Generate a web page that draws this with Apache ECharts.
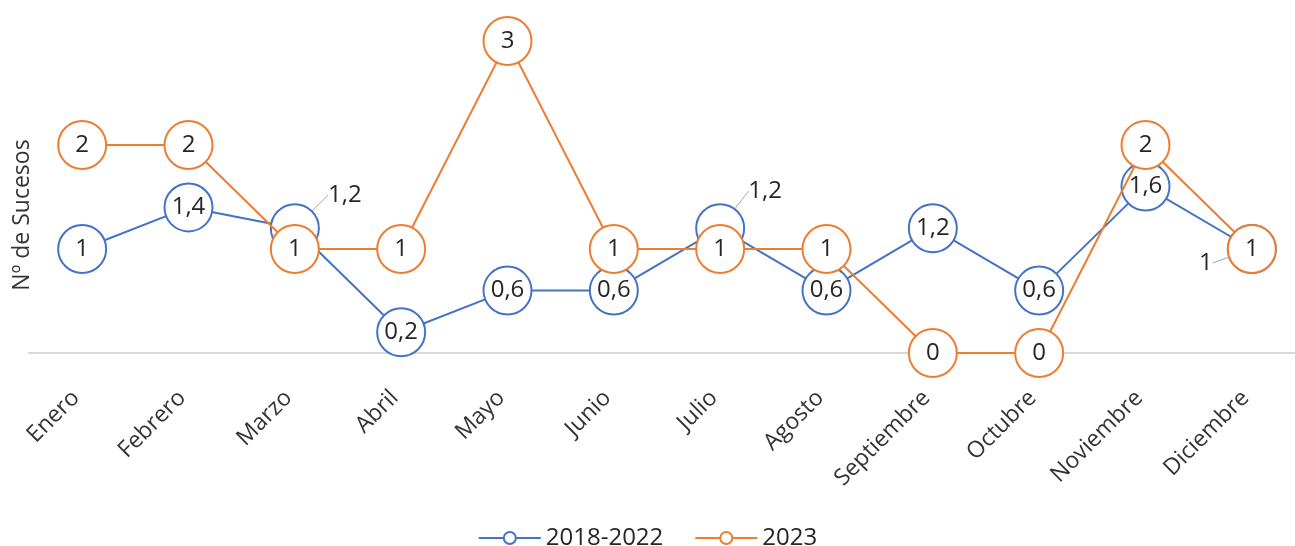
<!DOCTYPE html>
<html>
<head>
<meta charset="utf-8">
<script src="https://cdn.jsdelivr.net/npm/echarts@6/dist/echarts.min.js"></script>
<style>
html,body{margin:0;padding:0;background:#fff;}
#chart{width:1295px;height:546px;}
</style>
</head>
<body>
<div id="chart"></div>
<script>
var meses = ['Enero','Febrero','Marzo','Abril','Mayo','Junio','Julio','Agosto','Septiembre','Octubre','Noviembre','Diciembre'];
var serie1822 = [1, 1.4, 1.2, 0.2, 0.6, 0.6, 1.2, 0.6, 1.2, 0.6, 1.6, 1];
var serie2023 = [2, 2, 1, 1, 3, 1, 1, 1, 0, 0, 2, 1];
var nombres = ['2018-2022', '2023'];
var colores = ['#4472C4', '#ED7D31'];

// etiquetas desplazadas fuera del circulo (indice: [dx, dy])
var desplazadas = { 2: [50, -33], 6: [45, -37], 11: [-46, 14] };

var fuente = '"Open Sans", "Noto Sans", sans-serif';

function coma(v) {
    return String(v).replace('.', ',');
}

function datos(arr, mover) {
    return arr.map(function (v, i) {
        if (mover && desplazadas[i]) {
            return { value: v, labelLine: { show: true, lineStyle: { color: '#a6a6a6', width: 1 } } };
        }
        return v;
    });
}

function serie(idx, arr, mover) {
    return {
        name: nombres[idx],
        type: 'line',
        data: datos(arr, mover),
        symbol: 'circle',
        symbolSize: 48,
        z: 2 + idx,
        lineStyle: { color: colores[idx], width: 2 },
        itemStyle: { color: '#fff', borderColor: colores[idx], borderWidth: 2 },
        label: {
            show: true,
            position: 'inside',
            fontFamily: fuente,
            fontSize: 24,
            color: '#262626',
            formatter: function (p) { return coma(p.value); }
        },
        labelLayout: function (p) {
            if (mover && desplazadas[p.dataIndex]) {
                return { dx: desplazadas[p.dataIndex][0], dy: desplazadas[p.dataIndex][1] };
            }
        },
        emphasis: { disabled: true },
        animation: false
    };
}

var myChart = echarts.init(document.getElementById('chart'));
var option = {
    backgroundColor: '#fff',
    grid: {
        left: 29,
        right: -10,
        top: 41,
        bottom: 193,
        containLabel: false,
        outerBoundsMode: 'none'
    },
    legend: {
        data: nombres,
        bottom: -9,
        left: 'center',
        itemWidth: 62,
        itemHeight: 15,
        itemGap: 31,
        textStyle: { fontFamily: fuente, fontSize: 24, color: '#262626' }
    },
    xAxis: {
        type: 'category',
        data: meses,
        boundaryGap: true,
        axisLine: { lineStyle: { color: '#d9d9d9', width: 2 } },
        axisTick: { show: false },
        axisLabel: {
            rotate: 45,
            interval: 0,
            margin: 35,
            padding: [0, 9, 0, 0],
            fontFamily: fuente,
            fontSize: 23,
            color: '#333333'
        }
    },
    yAxis: {
        type: 'value',
        min: 0,
        max: 3,
        interval: 1,
        name: 'Nº de Sucesos',
        nameLocation: 'middle',
        nameRotate: 90,
        nameGap: -5,
        nameTextStyle: { fontFamily: fuente, fontSize: 23, color: '#333333', padding: [0, 36, 0, 0] },
        axisLine: { show: false },
        axisTick: { show: false },
        axisLabel: { show: false },
        splitLine: { show: false }
    },
    series: [
        serie(0, serie1822, true),
        serie(1, serie2023, false)
    ]
};
myChart.setOption(option);
</script>
</body>
</html>
